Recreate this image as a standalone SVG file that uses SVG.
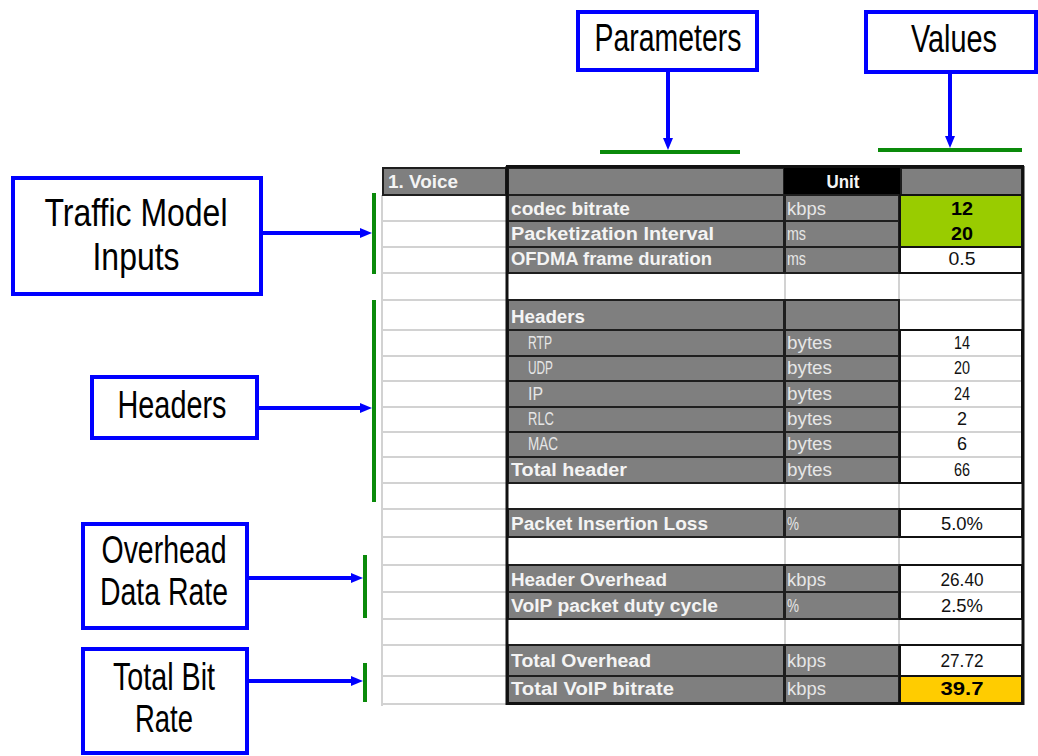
<svg xmlns="http://www.w3.org/2000/svg" width="1038" height="756" viewBox="0 0 1038 756">
<defs>
<marker id="ah" markerUnits="userSpaceOnUse" markerWidth="12" markerHeight="10" refX="3" refY="5" orient="auto">
<path d="M0,0 L12,5 L0,10 z" fill="#0000ff"/>
</marker>
<style>
.box{fill:#fff;stroke:#0000ff;stroke-width:4}
.lbl{font-family:"Liberation Sans",Arial,sans-serif;font-size:38px;fill:#000;text-anchor:middle}
.conn{stroke:#0000ff;stroke-width:4;fill:none;marker-end:url(#ah)}
.brk{stroke:#0a8a0a;stroke-width:4;fill:none}
.grid{stroke:#d2d2d2;stroke-width:2}
.gc{fill:#7f7f7f;stroke:#1e1e1e;stroke-width:2}
.vb{fill:#fff;stroke:#111;stroke-width:2}
.tb{font-family:"Liberation Sans",Arial,sans-serif;font-weight:bold;font-size:18px;fill:#f4f4f4}
.tn{font-family:"Liberation Sans",Arial,sans-serif;font-size:18px;fill:#e6e6e6}
.vt{font-family:"Liberation Sans",Arial,sans-serif;font-size:18px;fill:#111;text-anchor:middle}
.vtb{font-family:"Liberation Sans",Arial,sans-serif;font-size:18px;font-weight:bold;fill:#000;text-anchor:middle}
</style>
</defs>
<rect width="1038" height="756" fill="#fff"/>

<g id="table">
<!-- light grid -->
<g class="grid">
<line x1="382" y1="195" x2="382" y2="706"/>
<line x1="785" y1="195" x2="785" y2="703"/>
<line x1="899" y1="195" x2="899" y2="703"/>
<line x1="382" y1="221" x2="1023" y2="221"/>
<line x1="382" y1="247" x2="1023" y2="247"/>
<line x1="382" y1="273" x2="1023" y2="273"/>
<line x1="382" y1="300" x2="1023" y2="300"/>
<line x1="382" y1="330" x2="1023" y2="330"/>
<line x1="382" y1="356" x2="1023" y2="356"/>
<line x1="382" y1="381" x2="1023" y2="381"/>
<line x1="382" y1="407" x2="1023" y2="407"/>
<line x1="382" y1="432" x2="1023" y2="432"/>
<line x1="382" y1="457" x2="1023" y2="457"/>
<line x1="382" y1="483" x2="1023" y2="483"/>
<line x1="382" y1="509" x2="1023" y2="509"/>
<line x1="382" y1="537" x2="1023" y2="537"/>
<line x1="382" y1="565" x2="1023" y2="565"/>
<line x1="382" y1="592" x2="1023" y2="592"/>
<line x1="382" y1="619" x2="1023" y2="619"/>
<line x1="382" y1="645" x2="1023" y2="645"/>
<line x1="382" y1="676" x2="1023" y2="676"/>
<line x1="382" y1="704" x2="507" y2="704"/>
</g>

<!-- header row -->
<g id="row-header">
<rect class="gc" x="383" y="168" width="123" height="27"/>
<rect class="gc" x="508" y="168" width="276" height="27"/>
<rect x="784" y="166" width="116" height="29" fill="#000"/>
<rect class="gc" x="901" y="168" width="121" height="27"/>
<text class="tb" x="388" y="188" font-size="17" textLength="70" lengthAdjust="spacingAndGlyphs">1. Voice</text>
<text class="tb" x="843" y="188" font-size="14" text-anchor="middle" fill="#fff" textLength="33" lengthAdjust="spacingAndGlyphs">Unit</text>
</g>

<!-- gray parameter/unit cells -->
<g id="param-cells">
<rect class="gc" x="508" y="195" width="276" height="26"/><rect class="gc" x="785" y="195" width="114" height="26"/>
<rect class="gc" x="508" y="221" width="276" height="26"/><rect class="gc" x="785" y="221" width="114" height="26"/>
<rect class="gc" x="508" y="247" width="276" height="26"/><rect class="gc" x="785" y="247" width="114" height="26"/>
<rect class="gc" x="508" y="300" width="276" height="30"/><rect class="gc" x="785" y="300" width="114" height="30"/>
<rect class="gc" x="508" y="330" width="276" height="26"/><rect class="gc" x="785" y="330" width="114" height="26"/>
<rect class="gc" x="508" y="356" width="276" height="25"/><rect class="gc" x="785" y="356" width="114" height="25"/>
<rect class="gc" x="508" y="381" width="276" height="26"/><rect class="gc" x="785" y="381" width="114" height="26"/>
<rect class="gc" x="508" y="407" width="276" height="25"/><rect class="gc" x="785" y="407" width="114" height="25"/>
<rect class="gc" x="508" y="432" width="276" height="25"/><rect class="gc" x="785" y="432" width="114" height="25"/>
<rect class="gc" x="508" y="457" width="276" height="26"/><rect class="gc" x="785" y="457" width="114" height="26"/>
<rect class="gc" x="508" y="509" width="276" height="28"/><rect class="gc" x="785" y="509" width="114" height="28"/>
<rect class="gc" x="508" y="565" width="276" height="27"/><rect class="gc" x="785" y="565" width="114" height="27"/>
<rect class="gc" x="508" y="592" width="276" height="27"/><rect class="gc" x="785" y="592" width="114" height="27"/>
<rect class="gc" x="508" y="645" width="276" height="31"/><rect class="gc" x="785" y="645" width="114" height="31"/>
<rect class="gc" x="508" y="676" width="276" height="27"/><rect class="gc" x="785" y="676" width="114" height="27"/>
</g>

<!-- value cells -->
<g id="value-cells">
<rect class="vb" x="900" y="195" width="122" height="78"/>
<rect x="901" y="196" width="120" height="51" fill="#99cc00"/>
<line x1="900" y1="247" x2="1022" y2="247" stroke="#111" stroke-width="2"/>
<rect class="vb" x="900" y="330" width="122" height="153"/>
<g class="grid"><line x1="901" y1="356" x2="1021" y2="356"/><line x1="901" y1="381" x2="1021" y2="381"/><line x1="901" y1="407" x2="1021" y2="407"/><line x1="901" y1="432" x2="1021" y2="432"/><line x1="901" y1="457" x2="1021" y2="457"/></g>
<rect class="vb" x="900" y="509" width="122" height="28"/>
<rect class="vb" x="900" y="565" width="122" height="54"/>
<line class="grid" x1="901" y1="592" x2="1021" y2="592"/>
<rect class="vb" x="900" y="645" width="122" height="58"/>
<rect x="901" y="677" width="120" height="25" fill="#ffcc00"/>
<line x1="900" y1="676" x2="1022" y2="676" stroke="#111" stroke-width="2"/>
</g>

<!-- outer borders -->
<g stroke="#111" stroke-width="3">
<line x1="507" y1="166" x2="507" y2="705"/>
<line x1="1023" y1="166" x2="1023" y2="705"/>
<line x1="506" y1="703.5" x2="1024" y2="703.5"/>
<line x1="506" y1="166.5" x2="1024" y2="166.5"/>
</g>

<!-- labels -->
<g id="labels">
<text class="tb" x="511" y="215" textLength="119" lengthAdjust="spacingAndGlyphs">codec bitrate</text>
<text class="tb" x="511" y="240" textLength="203" lengthAdjust="spacingAndGlyphs">Packetization Interval</text>
<text class="tb" x="511" y="265" textLength="201" lengthAdjust="spacingAndGlyphs">OFDMA frame duration</text>
<text class="tb" x="511" y="323" textLength="74" lengthAdjust="spacingAndGlyphs">Headers</text>
<text class="tn" x="528" y="349" textLength="24" lengthAdjust="spacingAndGlyphs">RTP</text>
<text class="tn" x="528" y="374" textLength="25" lengthAdjust="spacingAndGlyphs">UDP</text>
<text class="tn" x="528" y="400" textLength="15" lengthAdjust="spacingAndGlyphs">IP</text>
<text class="tn" x="528" y="425" textLength="26" lengthAdjust="spacingAndGlyphs">RLC</text>
<text class="tn" x="528" y="450" textLength="30" lengthAdjust="spacingAndGlyphs">MAC</text>
<text class="tb" x="511" y="476" textLength="116" lengthAdjust="spacingAndGlyphs">Total header</text>
<text class="tb" x="511" y="530" textLength="197" lengthAdjust="spacingAndGlyphs">Packet Insertion Loss</text>
<text class="tb" x="511" y="586" textLength="156" lengthAdjust="spacingAndGlyphs">Header Overhead</text>
<text class="tb" x="511" y="612" textLength="207" lengthAdjust="spacingAndGlyphs">VoIP packet duty cycle</text>
<text class="tb" x="511" y="667" textLength="140" lengthAdjust="spacingAndGlyphs">Total Overhead</text>
<text class="tb" x="511" y="695" textLength="163" lengthAdjust="spacingAndGlyphs">Total VoIP bitrate</text>
</g>
<g id="units">
<text class="tn" x="787" y="215" textLength="39" lengthAdjust="spacingAndGlyphs">kbps</text>
<text class="tn" x="787" y="240" textLength="19" lengthAdjust="spacingAndGlyphs">ms</text>
<text class="tn" x="787" y="265" textLength="19" lengthAdjust="spacingAndGlyphs">ms</text>
<text class="tn" x="787" y="349" textLength="45" lengthAdjust="spacingAndGlyphs">bytes</text>
<text class="tn" x="787" y="374" textLength="45" lengthAdjust="spacingAndGlyphs">bytes</text>
<text class="tn" x="787" y="400" textLength="45" lengthAdjust="spacingAndGlyphs">bytes</text>
<text class="tn" x="787" y="425" textLength="45" lengthAdjust="spacingAndGlyphs">bytes</text>
<text class="tn" x="787" y="450" textLength="45" lengthAdjust="spacingAndGlyphs">bytes</text>
<text class="tn" x="787" y="476" textLength="45" lengthAdjust="spacingAndGlyphs">bytes</text>
<text class="tn" x="787" y="530" textLength="12" lengthAdjust="spacingAndGlyphs">%</text>
<text class="tn" x="787" y="586" textLength="39" lengthAdjust="spacingAndGlyphs">kbps</text>
<text class="tn" x="787" y="612" textLength="12" lengthAdjust="spacingAndGlyphs">%</text>
<text class="tn" x="787" y="667" textLength="39" lengthAdjust="spacingAndGlyphs">kbps</text>
<text class="tn" x="787" y="695" textLength="39" lengthAdjust="spacingAndGlyphs">kbps</text>
</g>
<g id="values">
<text class="vtb" x="962" y="215" textLength="22" lengthAdjust="spacingAndGlyphs">12</text>
<text class="vtb" x="962" y="240" textLength="22" lengthAdjust="spacingAndGlyphs">20</text>
<text class="vt" x="962" y="265" textLength="27" lengthAdjust="spacingAndGlyphs">0.5</text>
<text class="vt" x="962" y="349" textLength="16" lengthAdjust="spacingAndGlyphs">14</text>
<text class="vt" x="962" y="374" textLength="16" lengthAdjust="spacingAndGlyphs">20</text>
<text class="vt" x="962" y="400" textLength="16" lengthAdjust="spacingAndGlyphs">24</text>
<text class="vt" x="962" y="425">2</text>
<text class="vt" x="962" y="450">6</text>
<text class="vt" x="962" y="476" textLength="16" lengthAdjust="spacingAndGlyphs">66</text>
<text class="vt" x="962" y="530" textLength="42" lengthAdjust="spacingAndGlyphs">5.0%</text>
<text class="vt" x="962" y="586" textLength="43" lengthAdjust="spacingAndGlyphs">26.40</text>
<text class="vt" x="962" y="612" textLength="42" lengthAdjust="spacingAndGlyphs">2.5%</text>
<text class="vt" x="962" y="667" textLength="43" lengthAdjust="spacingAndGlyphs">27.72</text>
<text class="vtb" x="962" y="695" textLength="43" lengthAdjust="spacingAndGlyphs">39.7</text>
</g>
</g>

<g id="brackets">
<line class="brk" x1="600" y1="152" x2="740" y2="152"/>
<line class="brk" x1="878" y1="150" x2="1022" y2="150"/>
<line class="brk" x1="374" y1="193" x2="374" y2="274"/>
<line class="brk" x1="374" y1="300" x2="374" y2="502"/>
<line class="brk" x1="365" y1="555" x2="365" y2="618"/>
<line class="brk" x1="365" y1="663" x2="365" y2="702"/>
</g>

<g id="node-parameters">
<rect class="box" x="578" y="12" width="179" height="58"/>
<text class="lbl" x="668" y="51" font-size="33" textLength="147" lengthAdjust="spacingAndGlyphs">Parameters</text>
</g>
<g id="node-values">
<rect class="box" x="866" y="12" width="170" height="60"/>
<text class="lbl" x="954" y="52" font-size="33" textLength="86" lengthAdjust="spacingAndGlyphs">Values</text>
</g>
<g id="node-traffic">
<rect class="box" x="13" y="178" width="248" height="116"/>
<text class="lbl" x="136" y="226" font-size="40" textLength="183" lengthAdjust="spacingAndGlyphs">Traffic Model</text>
<text class="lbl" x="136" y="270" font-size="40" textLength="87" lengthAdjust="spacingAndGlyphs">Inputs</text>
</g>
<g id="node-headers">
<rect class="box" x="92" y="377" width="165" height="61"/>
<text class="lbl" x="172" y="418" font-size="36" textLength="109" lengthAdjust="spacingAndGlyphs">Headers</text>
</g>
<g id="node-overhead">
<rect class="box" x="83" y="524" width="164" height="104"/>
<text class="lbl" x="164" y="563" font-size="36" textLength="125" lengthAdjust="spacingAndGlyphs">Overhead</text>
<text class="lbl" x="164" y="605" font-size="36" textLength="128" lengthAdjust="spacingAndGlyphs">Data Rate</text>
</g>
<g id="node-totalbit">
<rect class="box" x="83" y="649" width="164" height="104"/>
<text class="lbl" x="164" y="690" font-size="36" textLength="102" lengthAdjust="spacingAndGlyphs">Total Bit</text>
<text class="lbl" x="164" y="732" font-size="36" textLength="58" lengthAdjust="spacingAndGlyphs">Rate</text>
</g>

<g id="connectors">
<line class="conn" x1="668" y1="70" x2="668" y2="141"/>
<line class="conn" x1="950" y1="72" x2="950" y2="139"/>
<line class="conn" x1="261" y1="233" x2="363" y2="233"/>
<line class="conn" x1="257" y1="408" x2="363" y2="408"/>
<line class="conn" x1="247" y1="578" x2="354" y2="578"/>
<line class="conn" x1="247" y1="681" x2="354" y2="681"/>
</g>
</svg>
